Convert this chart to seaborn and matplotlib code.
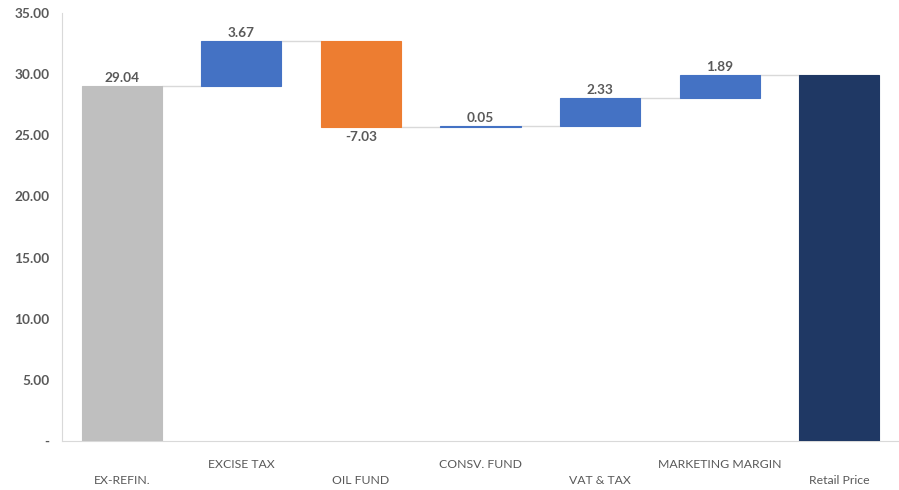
import numpy as np
import pandas as pd
import matplotlib
matplotlib.use("Agg")
import matplotlib.pyplot as plt
import seaborn as sns

# data
categories = ["EX-REFIN.", "EXCISE TAX", "OIL FUND", "CONSV. FUND",
              "VAT & TAX", "MARKETING MARGIN", "Retail Price"]
changes = [29.04, 3.67, -7.03, 0.05, 2.33, 1.89]
kinds = ["base", "up", "down", "up", "up", "up", "total"]
y_ticks = [0, 5, 10, 15, 20, 25, 30, 35]

palette = {"base": "#BFBFBF", "up": "#4472C4", "down": "#ED7D31", "total": "#1F3864"}

# waterfall geometry
running = np.cumsum(changes)
retail = running[-1]
starts = [0] + list(running[:-1]) + [0]
heights = changes + [retail]
tops = list(running) + [retail]

df = pd.DataFrame({"cat": categories, "height": heights, "start": starts})

sns.set_style("white")
plt.rcParams["font.family"] = ["Lato", "DejaVu Sans"]

fig = plt.figure(figsize=(8.99, 4.90), dpi=100)
ax = fig.add_axes([0.069, 0.1, 0.931, 0.8735])

sns.barplot(data=df, x="cat", y="height", bottom=df["start"].values, width=0.67,
            color="#4472C4", errorbar=None, ax=ax, zorder=3)
for patch, k in zip(ax.patches, kinds):
    patch.set_facecolor(palette[k])
    patch.set_edgecolor(palette[k])
    patch.set_linewidth(0.8)

# connector lines
half = 0.67 / 2
for i in range(len(categories) - 1):
    ax.plot([i + half, i + 1 - half], [tops[i], tops[i]], color="#D9D9D9", lw=1, zorder=2)

# data labels
for i, v in enumerate(changes):
    if v < 0:
        ax.annotate(f"{v:.2f}", (i, starts[i] + v), xytext=(0, -3), textcoords="offset points",
                    ha="center", va="top", fontsize=9.8, fontweight="bold", color="#595959")
    else:
        ax.annotate(f"{v:.2f}", (i, starts[i] + v), xytext=(0, 1.5), textcoords="offset points",
                    ha="center", va="bottom", fontsize=9.8, fontweight="bold", color="#595959")

ax.set_xlim(-0.5, 6.5)
ax.set_ylim(0, 35)
ax.set_yticks(y_ticks)
ax.set_yticklabels(["-" if t == 0 else f"{t:.2f}" for t in y_ticks],
                   fontsize=9.8, fontweight="bold", color="#595959")
ax.set_xticks(range(len(categories)))
labels = ax.set_xticklabels([c if i % 2 else "\n" + c for i, c in enumerate(categories)],
                            fontsize=8.8, color="#595959")
for lab in labels:
    lab.set_linespacing(1.5)
ax.tick_params(axis="x", length=0, pad=13)
ax.tick_params(axis="y", length=0, pad=9)
ax.set_xlabel("")
ax.set_ylabel("")

sns.despine(ax=ax, top=True, right=True)
ax.spines["left"].set_color("#D9D9D9")
ax.spines["bottom"].set_color("#D9D9D9")

fig.savefig("out.png", dpi=100)
